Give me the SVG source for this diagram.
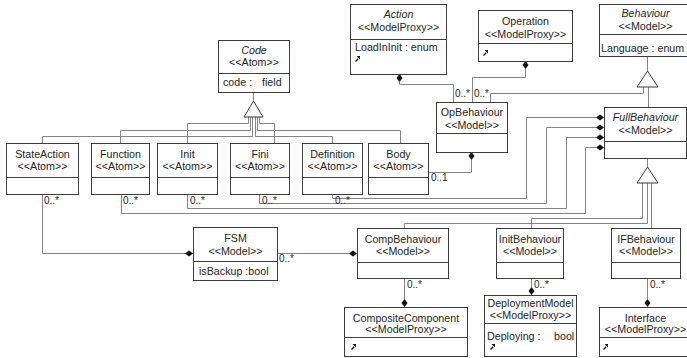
<svg xmlns="http://www.w3.org/2000/svg" xmlns:xlink="http://www.w3.org/1999/xlink" width="687" height="358" viewBox="0 0 687 358">
  <style>
    text { font-family: "Liberation Sans", Arial, sans-serif; font-size: 10.7px; fill: #262626; }
    .c { text-anchor: middle; }
    .i { font-style: italic; }
    .m { font-size: 10px; }
    .box { fill: #ffffff; stroke: #3c3c3c; stroke-width: 1; }
    .div { stroke: #3c3c3c; stroke-width: 1; }
    .wire { fill: none; stroke: #858585; stroke-width: 1; }
    .gen { fill: #ffffff; stroke: #3c3c3c; stroke-width: 1; }
    .dia { fill: #111111; }
  </style>
  <defs>
    <!-- filled composition diamonds, horizontal and vertical -->
    <path id="dh" class="dia" d="M-4,0 L0,-3 L4,0 L0,3 Z"/>
    <path id="dv" class="dia" d="M0,-4 L3,0 L0,4 L-3,0 Z"/>
    <!-- small proxy link glyph -->
    <g id="lnk">
      <path d="M0.5,5.5 L3.2,2.8" stroke="#111" stroke-width="1.3" fill="none"/>
      <path d="M1.5,0 L5,0 L5,3.5 Z" fill="#111"/>
    </g>
  </defs>

  <g id="connectors">
    <!-- Code generalization tree -->
    <path class="wire" d="M253.5,92 V101"/>
    <path class="wire" d="M248.5,117 V123.5 H187.5 V143"/>
    <path class="wire" d="M250.5,117 V130.5 H120.5 V143"/>
    <path class="wire" d="M252.5,117 V136.5 H42.5 V143"/>
    <path class="wire" d="M255.5,117 V136.5 H332.5 V143"/>
    <path class="wire" d="M257.5,117 V130.5 H400.5 V143"/>
    <path class="wire" d="M259.5,117 V123.5 H274.5 V143"/>
    <polygon class="gen" points="253.5,101 244,117 263,117"/>

    <!-- StateAction to FSM, FSM to CompBehaviour -->
    <path class="wire" d="M42.5,194 V253.5 H186"/>
    <path class="wire" d="M277,253.5 H349"/>

    <!-- atoms to FullBehaviour -->
    <path class="wire" d="M121.5,194 V213.5 H585.5 V147.5 H596"/>
    <path class="wire" d="M187.5,194 V208.5 H566.5 V137.5 H596"/>
    <path class="wire" d="M259.5,194 V203.5 H546.5 V127.5 H596"/>
    <path class="wire" d="M332.5,194 V198.5 H526.5 V117.5 H596"/>

    <!-- OpBehaviour associations -->
    <path class="wire" d="M428,172.5 H471.5 V160"/>
    <path class="wire" d="M399.5,82 V84.5 H453.5 V102"/>
    <path class="wire" d="M525.5,69 V77.5 H472.5 V102"/>

    <!-- Behaviour generalization -->
    <path class="wire" d="M490.5,102 V93.5 H643.5 V87"/>
    <path class="wire" d="M647.5,56 V71"/>
    <path class="wire" d="M648.5,87 V107"/>
    <polygon class="gen" points="647.5,71 637,87 658,87"/>

    <!-- FullBehaviour generalization -->
    <path class="wire" d="M647.5,158 V167"/>
    <path class="wire" d="M642.5,183 V218.5 H531.5 V228"/>
    <path class="wire" d="M647.5,183 V223.5 H404.5 V228"/>
    <path class="wire" d="M651.5,183 V228"/>
    <polygon class="gen" points="647.5,167 637,183 658,183"/>

    <!-- lower compositions -->
    <path class="wire" d="M404.5,278 V299"/>
    <path class="wire" d="M531.5,278 V287"/>
    <path class="wire" d="M647.5,278 V299"/>

    <!-- diamonds -->
    <use xlink:href="#dh" x="189" y="253.5"/>
    <use xlink:href="#dh" x="353" y="253.5"/>
    <use xlink:href="#dh" x="600" y="117.5"/>
    <use xlink:href="#dh" x="600" y="127.5"/>
    <use xlink:href="#dh" x="600" y="137.5"/>
    <use xlink:href="#dh" x="600" y="147.5"/>
    <use xlink:href="#dv" x="471.5" y="156"/>
    <use xlink:href="#dv" x="399.5" y="78"/>
    <use xlink:href="#dv" x="525.5" y="65"/>
    <use xlink:href="#dv" x="404.5" y="303"/>
    <use xlink:href="#dv" x="531.5" y="291"/>
    <use xlink:href="#dv" x="647.5" y="303"/>

    <!-- multiplicities -->
    <text class="m" x="44" y="204">0..*</text>
    <text class="m" x="123" y="204">0..*</text>
    <text class="m" x="190" y="204">0..*</text>
    <text class="m" x="262" y="204">0..*</text>
    <text class="m" x="335" y="204">0..*</text>
    <text class="m" x="431" y="181">0..1</text>
    <text class="m" x="279" y="262">0..*</text>
    <text class="m" x="455" y="97">0..*</text>
    <text class="m" x="474" y="97">0..*</text>
    <text class="m" x="407" y="288">0..*</text>
    <text class="m" x="534" y="288">0..*</text>
    <text class="m" x="650" y="288">0..*</text>
  </g>

  <g id="code">
    <rect class="box" x="218.5" y="40.5" width="71" height="52"/>
    <line class="div" x1="218.5" y1="73.5" x2="289.5" y2="73.5"/>
    <text class="c i" x="254" y="54">Code</text>
    <text class="c" x="254" y="66">&lt;&lt;Atom&gt;&gt;</text>
    <text x="223" y="86">code :</text>
    <text x="262" y="86">field</text>
  </g>

  <g id="stateaction">
    <rect class="box" x="6.5" y="143.5" width="72" height="51"/>
    <line class="div" x1="6.5" y1="177.5" x2="78.5" y2="177.5"/>
    <text class="c" x="42.5" y="158">StateAction</text>
    <text class="c" x="42.5" y="170">&lt;&lt;Atom&gt;&gt;</text>
  </g>
  <g id="function">
    <rect class="box" x="91.5" y="143.5" width="58" height="51"/>
    <line class="div" x1="91.5" y1="177.5" x2="149.5" y2="177.5"/>
    <text class="c" x="120.5" y="158">Function</text>
    <text class="c" x="120.5" y="170">&lt;&lt;Atom&gt;&gt;</text>
  </g>
  <g id="init">
    <rect class="box" x="157.5" y="143.5" width="60" height="51"/>
    <line class="div" x1="157.5" y1="177.5" x2="217.5" y2="177.5"/>
    <text class="c" x="187.5" y="158">Init</text>
    <text class="c" x="187.5" y="170">&lt;&lt;Atom&gt;&gt;</text>
  </g>
  <g id="fini">
    <rect class="box" x="230.5" y="143.5" width="59" height="51"/>
    <line class="div" x1="230.5" y1="177.5" x2="289.5" y2="177.5"/>
    <text class="c" x="260" y="158">Fini</text>
    <text class="c" x="260" y="170">&lt;&lt;Atom&gt;&gt;</text>
  </g>
  <g id="definition">
    <rect class="box" x="302.5" y="143.5" width="60" height="51"/>
    <line class="div" x1="302.5" y1="177.5" x2="362.5" y2="177.5"/>
    <text class="c" x="332.5" y="158">Definition</text>
    <text class="c" x="332.5" y="170">&lt;&lt;Atom&gt;&gt;</text>
  </g>
  <g id="body">
    <rect class="box" x="368.5" y="143.5" width="60" height="51"/>
    <line class="div" x1="368.5" y1="177.5" x2="428.5" y2="177.5"/>
    <text class="c" x="398.5" y="158">Body</text>
    <text class="c" x="398.5" y="170">&lt;&lt;Atom&gt;&gt;</text>
  </g>

  <g id="action">
    <rect class="box" x="350.5" y="4.5" width="96" height="70"/>
    <line class="div" x1="350.5" y1="39.5" x2="446.5" y2="39.5"/>
    <text class="c i" x="398.5" y="18">Action</text>
    <text class="c" x="398.5" y="31">&lt;&lt;ModelProxy&gt;&gt;</text>
    <text x="355" y="51">LoadInInit : enum</text>
    <use xlink:href="#lnk" x="355" y="56"/>
  </g>
  <g id="operation">
    <rect class="box" x="478.5" y="10.5" width="94" height="51"/>
    <line class="div" x1="478.5" y1="43.5" x2="572.5" y2="43.5"/>
    <text class="c" x="525.5" y="25">Operation</text>
    <text class="c" x="525.5" y="38">&lt;&lt;ModelProxy&gt;&gt;</text>
    <use xlink:href="#lnk" x="483" y="50"/>
  </g>
  <g id="behaviour">
    <rect class="box" x="599.5" y="4.5" width="93" height="52"/>
    <line class="div" x1="599.5" y1="34.5" x2="692.5" y2="34.5"/>
    <text class="c i" x="645.5" y="17">Behaviour</text>
    <text class="c" x="645.5" y="30">&lt;&lt;Model&gt;&gt;</text>
    <text x="601" y="52">Language : enum</text>
  </g>
  <g id="opbehaviour">
    <rect class="box" x="436.5" y="102.5" width="71" height="50"/>
    <line class="div" x1="436.5" y1="133.5" x2="507.5" y2="133.5"/>
    <text class="c" x="472" y="116">OpBehaviour</text>
    <text class="c" x="472" y="129">&lt;&lt;Model&gt;&gt;</text>
  </g>
  <g id="fullbehaviour">
    <rect class="box" x="604.5" y="107.5" width="82" height="51"/>
    <line class="div" x1="604.5" y1="141.5" x2="686.5" y2="141.5"/>
    <text class="c i" x="645.5" y="121">FullBehaviour</text>
    <text class="c" x="645.5" y="134">&lt;&lt;Model&gt;&gt;</text>
  </g>

  <g id="fsm">
    <rect class="box" x="193.5" y="227.5" width="84" height="53"/>
    <line class="div" x1="193.5" y1="261.5" x2="277.5" y2="261.5"/>
    <text class="c" x="235.5" y="242">FSM</text>
    <text class="c" x="235.5" y="255">&lt;&lt;Model&gt;&gt;</text>
    <text x="199" y="275">isBackup :bool</text>
  </g>
  <g id="compbehaviour">
    <rect class="box" x="357.5" y="228.5" width="91" height="50"/>
    <line class="div" x1="357.5" y1="262.5" x2="448.5" y2="262.5"/>
    <text class="c" x="403" y="243">CompBehaviour</text>
    <text class="c" x="403" y="255">&lt;&lt;Model&gt;&gt;</text>
  </g>
  <g id="initbehaviour">
    <rect class="box" x="496.5" y="228.5" width="67" height="50"/>
    <line class="div" x1="496.5" y1="262.5" x2="563.5" y2="262.5"/>
    <text class="c" x="530" y="243">InitBehaviour</text>
    <text class="c" x="530" y="255">&lt;&lt;Model&gt;&gt;</text>
  </g>
  <g id="ifbehaviour">
    <rect class="box" x="611.5" y="228.5" width="69" height="50"/>
    <line class="div" x1="611.5" y1="262.5" x2="680.5" y2="262.5"/>
    <text class="c" x="646" y="243">IFBehaviour</text>
    <text class="c" x="646" y="255">&lt;&lt;Model&gt;&gt;</text>
  </g>

  <g id="compositecomponent">
    <rect class="box" x="344.5" y="307.5" width="123" height="49"/>
    <line class="div" x1="344.5" y1="337.5" x2="467.5" y2="337.5"/>
    <text class="c" x="406" y="322">CompositeComponent</text>
    <text class="c" x="406" y="333">&lt;&lt;ModelProxy&gt;&gt;</text>
    <use xlink:href="#lnk" x="351" y="344"/>
  </g>
  <g id="deploymentmodel">
    <rect class="box" x="484.5" y="295.5" width="92" height="61"/>
    <line class="div" x1="484.5" y1="323.5" x2="576.5" y2="323.5"/>
    <text class="c" x="530.5" y="307">DeploymentModel</text>
    <text class="c" x="530.5" y="319">&lt;&lt;ModelProxy&gt;&gt;</text>
    <text x="487" y="340">Deploying :</text>
    <text x="554" y="340">bool</text>
    <use xlink:href="#lnk" x="490" y="344"/>
  </g>
  <g id="interface">
    <rect class="box" x="599.5" y="307.5" width="93" height="49"/>
    <line class="div" x1="599.5" y1="337.5" x2="692.5" y2="337.5"/>
    <text class="c" x="645.5" y="322">Interface</text>
    <text class="c" x="645.5" y="333">&lt;&lt;ModelProxy&gt;&gt;</text>
    <use xlink:href="#lnk" x="603" y="344"/>
  </g>
</svg>
